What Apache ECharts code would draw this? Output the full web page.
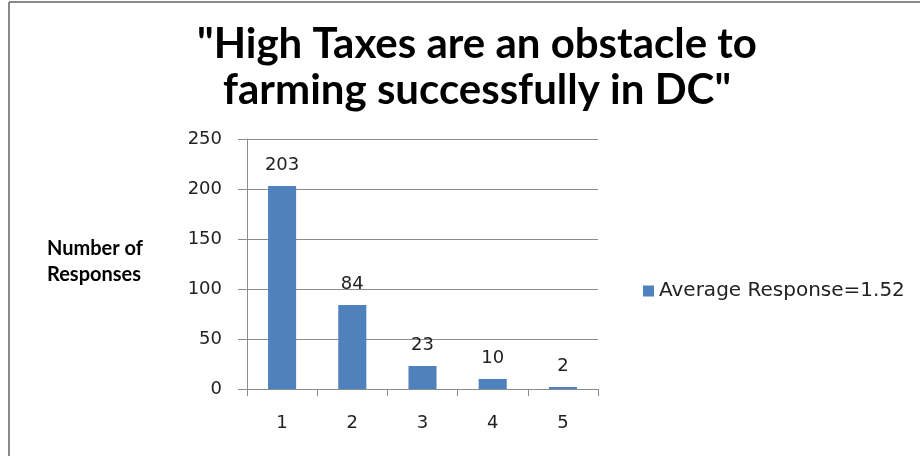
<!DOCTYPE html>
<html>
<head>
<meta charset="utf-8">
<script src="https://cdn.jsdelivr.net/npm/echarts@6/dist/echarts.min.js"></script>
<style>
  html, body { margin: 0; padding: 0; background: #fff; }
  #chart { width: 920px; height: 456px; }
</style>
</head>
<body>
<div id="chart"></div>
<script>
// Survey answer scale (1 = strongly agree ... 5 = strongly disagree)
const categories = ['1', '2', '3', '4', '5'];
// Count of responses per answer
const responses = [203, 84, 23, 10, 2];
const seriesName = 'Average Response=1.52';
const titleLines = ['"High Taxes are an obstacle to', 'farming successfully in DC"'];
const yAxisTitle = 'Number of\nResponses';

const bodyFont = 'DejaVu Sans';
const headFont = 'Lato';
const gray = '#8c8c8c';

const chart = echarts.init(document.getElementById('chart'), null, { renderer: 'canvas' });
chart.setOption({
  animation: false,
  backgroundColor: '#fff',
  title: {
    text: titleLines.join('\n'),
    left: 472,
    top: 16,
    textAlign: 'center',
    textStyle: {
      fontFamily: headFont,
      fontWeight: 'bold',
      fontSize: 42,
      lineHeight: 46,
      color: '#000'
    }
  },
  legend: {
    left: 638,
    top: 276,
    itemWidth: 11,
    itemHeight: 11,
    itemGap: 10,
    icon: 'rect',
    textStyle: { fontFamily: bodyFont, fontSize: 20, color: '#222' },
    data: [seriesName]
  },
  grid: { left: 247, right: 322, top: 139, bottom: 67, containLabel: false },
  xAxis: {
    type: 'category',
    data: categories,
    axisLine: { lineStyle: { color: gray, width: 1 } },
    axisTick: { show: true, length: 7, lineStyle: { color: gray } },
    axisLabel: { fontFamily: bodyFont, fontSize: 18, color: '#222', margin: 25 }
  },
  yAxis: {
    type: 'value',
    min: 0,
    max: 250,
    interval: 50,
    axisLine: { show: true, lineStyle: { color: gray, width: 1 } },
    axisTick: { show: true, length: 9, lineStyle: { color: gray } },
    splitLine: { show: true, lineStyle: { color: gray, width: 1 } },
    axisLabel: { fontFamily: bodyFont, fontSize: 18, color: '#222', margin: 25 }
  },
  graphic: [
    {
      type: 'text',
      left: 47,
      top: 236,
      style: {
        text: yAxisTitle,
        fontFamily: headFont,
        fontWeight: 'bold',
        fontSize: 20,
        lineHeight: 26,
        fill: '#000'
      }
    },
    {
      type: 'group',
      children: [
        { type: 'line', shape: { x1: 9, y1: 2, x2: 920, y2: 2 }, style: { stroke: '#8a8a8a', lineWidth: 2 } },
        { type: 'line', shape: { x1: 9, y1: 2, x2: 9, y2: 456 }, style: { stroke: '#8a8a8a', lineWidth: 2 } }
      ]
    }
  ],
  series: [{
    name: seriesName,
    type: 'bar',
    data: responses,
    barWidth: '40%',
    itemStyle: { color: '#4f81bd' },
    label: {
      show: true,
      position: 'top',
      distance: 12,
      fontFamily: bodyFont,
      fontSize: 18,
      color: '#222'
    }
  }]
});
</script>
</body>
</html>
